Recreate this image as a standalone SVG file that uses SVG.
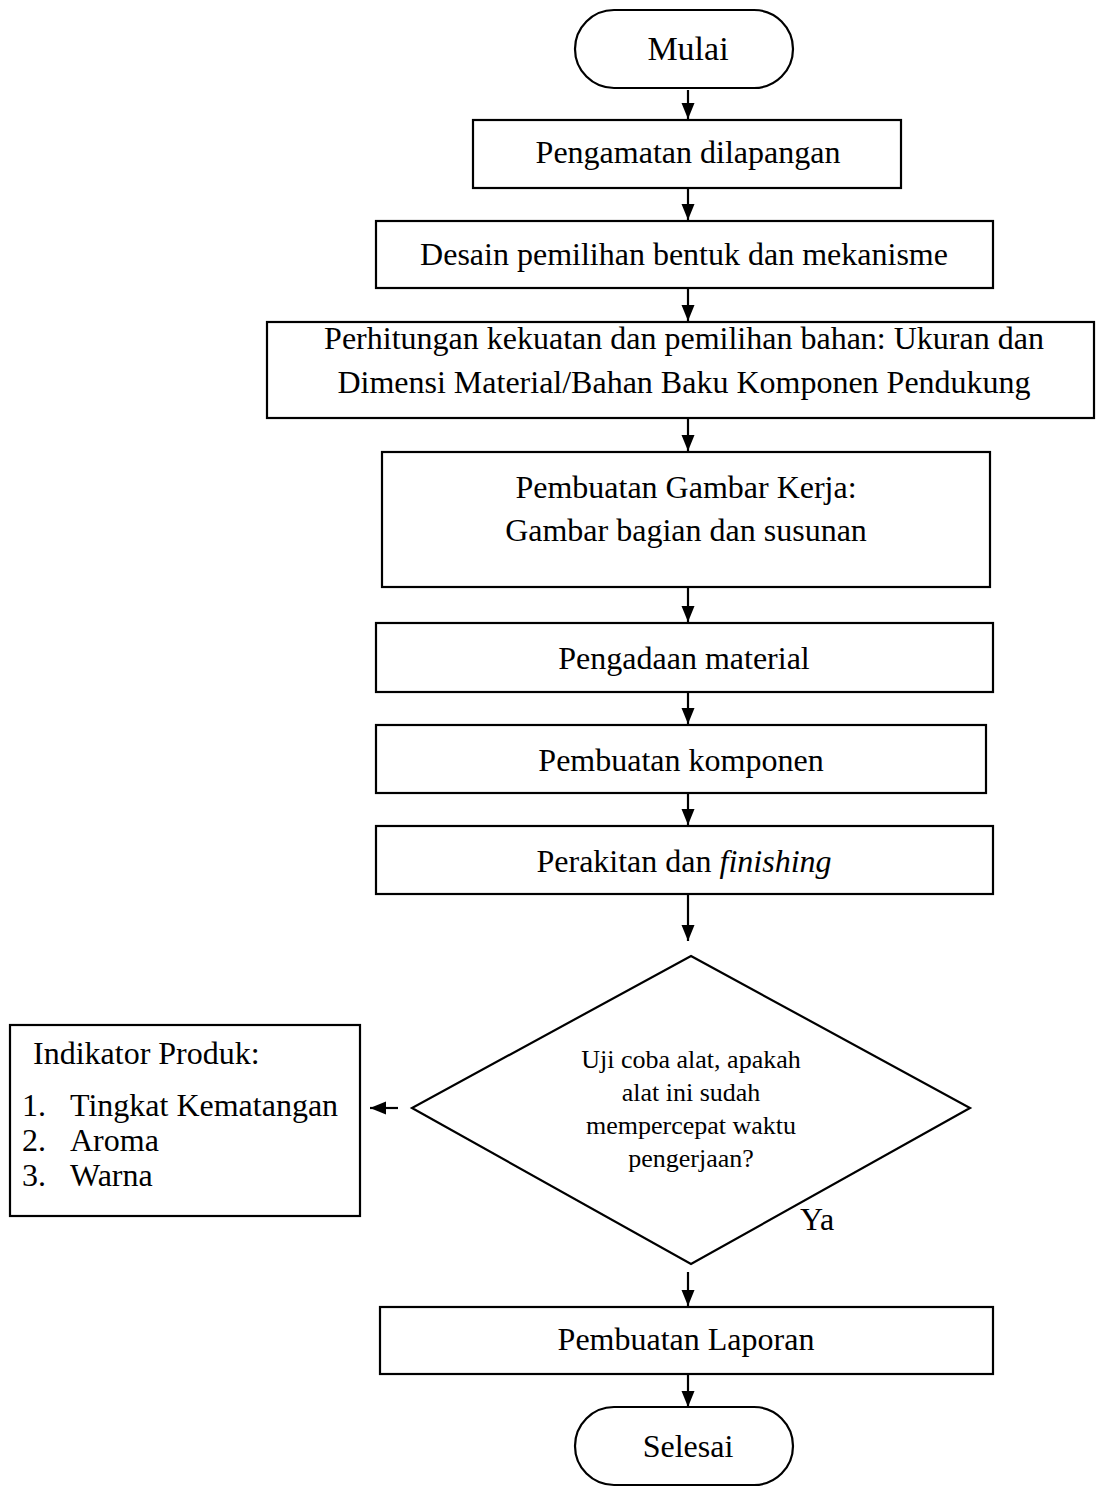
<svg xmlns="http://www.w3.org/2000/svg" width="1096" height="1512" viewBox="0 0 1096 1512">
<defs>
<style>
.n{fill:#fff;stroke:#000;stroke-width:2.2}
.c{stroke:#000;stroke-width:2.2;fill:none}
text{font-family:"Liberation Serif","Times New Roman",serif;font-size:32px;fill:#000}
.m{text-anchor:middle}
.s{font-size:26px}
</style>
<marker id="ah" markerWidth="16" markerHeight="14" refX="16" refY="7" orient="auto" markerUnits="userSpaceOnUse">
<path d="M0,0.5 L16,7 L0,13.5 Z" fill="#000"/>
</marker>
</defs>
<rect width="1096" height="1512" fill="#fff"/>
<g id="connectors">
<line class="c" x1="688" y1="90" x2="688" y2="119" marker-end="url(#ah)"/>
<line class="c" x1="688" y1="189" x2="688" y2="220" marker-end="url(#ah)"/>
<line class="c" x1="688" y1="289" x2="688" y2="321" marker-end="url(#ah)"/>
<line class="c" x1="688" y1="419" x2="688" y2="451" marker-end="url(#ah)"/>
<line class="c" x1="688" y1="588" x2="688" y2="622" marker-end="url(#ah)"/>
<line class="c" x1="688" y1="693" x2="688" y2="724" marker-end="url(#ah)"/>
<line class="c" x1="688" y1="794" x2="688" y2="825" marker-end="url(#ah)"/>
<line class="c" x1="688" y1="895" x2="688" y2="941" marker-end="url(#ah)"/>
<line class="c" x1="398" y1="1108" x2="370" y2="1108" marker-end="url(#ah)"/>
<line class="c" x1="688" y1="1272" x2="688" y2="1306" marker-end="url(#ah)"/>
<line class="c" x1="688" y1="1375" x2="688" y2="1407" marker-end="url(#ah)"/>
</g>
<g id="start">
<rect class="n" x="575" y="10" width="218" height="78" rx="39"/>
<text class="m" x="688" y="60" style="font-size:34px">Mulai</text>
</g>
<g id="n1">
<rect class="n" x="473" y="120" width="428" height="68"/>
<text class="m" x="688" y="163">Pengamatan dilapangan</text>
</g>
<g id="n2">
<rect class="n" x="376" y="221" width="617" height="67"/>
<text class="m" x="684" y="265">Desain pemilihan bentuk dan mekanisme</text>
</g>
<g id="n3">
<rect class="n" x="267" y="322" width="827" height="96"/>
<text class="m" x="684" y="349">Perhitungan kekuatan dan pemilihan bahan: Ukuran dan</text>
<text class="m" x="684" y="393">Dimensi Material/Bahan Baku Komponen Pendukung</text>
</g>
<g id="n4">
<rect class="n" x="382" y="452" width="608" height="135"/>
<text class="m" x="686" y="498">Pembuatan Gambar Kerja:</text>
<text class="m" x="686" y="541">Gambar bagian dan susunan</text>
</g>
<g id="n5">
<rect class="n" x="376" y="623" width="617" height="69"/>
<text class="m" x="684" y="669">Pengadaan material</text>
</g>
<g id="n6">
<rect class="n" x="376" y="725" width="610" height="68"/>
<text class="m" x="681" y="771">Pembuatan komponen</text>
</g>
<g id="n7">
<rect class="n" x="376" y="826" width="617" height="68"/>
<text class="m" x="684" y="872">Perakitan dan <tspan font-style="italic">finishing</tspan></text>
</g>
<g id="decision">
<polygon class="n" points="691,956 970,1108 691,1264 412,1108"/>
<text class="m s" x="691" y="1068">Uji coba alat, apakah</text>
<text class="m s" x="691" y="1101">alat ini sudah</text>
<text class="m s" x="691" y="1134">mempercepat waktu</text>
<text class="m s" x="691" y="1167">pengerjaan?</text>
</g>
<text x="800" y="1230">Ya</text>
<g id="indicator">
<rect class="n" x="10" y="1025" width="350" height="191"/>
<text x="33" y="1064">Indikator Produk:</text>
<text x="22" y="1116">1.</text><text x="70" y="1116">Tingkat Kematangan</text>
<text x="22" y="1151">2.</text><text x="70" y="1151">Aroma</text>
<text x="22" y="1186">3.</text><text x="70" y="1186">Warna</text>
</g>
<g id="n8">
<rect class="n" x="380" y="1307" width="613" height="67"/>
<text class="m" x="686" y="1350">Pembuatan Laporan</text>
</g>
<g id="end">
<rect class="n" x="575" y="1407" width="218" height="78" rx="39"/>
<text class="m" x="688" y="1457">Selesai</text>
</g>
</svg>
